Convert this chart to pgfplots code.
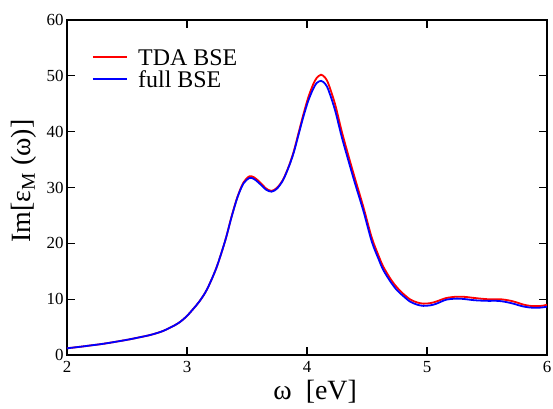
\documentclass[border=0pt]{standalone}
\usepackage{fontspec}
\setmainfont{Liberation Serif}
\usepackage{pgfplots}
\pgfplotsset{compat=1.18}
\begin{document}
\begin{tikzpicture}
\begin{axis}[name=ax, scale only axis, width=480bp, height=335bp,
  xmin=2, xmax=6, ymin=0, ymax=60,
  xtick={2,3,4,5,6}, ytick={0,10,20,30,40,50,60},
  xticklabels={2,3,4,5,6}, yticklabels={0,10,20,30,40,50,60},
  minor tick num=0,
  tick align=inside, major tick length=8bp,
  tick style={line width=1.2bp, black},
  axis line style={line width=1.8bp},
  ticklabel style={font=\fontsize{17}{17}\selectfont},
  xticklabel style={yshift=-3bp},
  xlabel={ω\ \ [eV]},
  ylabel={Im[ε\textsubscript{M} (ω)]},
  xlabel style={font=\fontsize{28}{28}\selectfont, at={(axis description cs:0.517,-0.11)}, anchor=center},
  ylabel style={font=\fontsize{28}{28}\selectfont, at={(axis description cs:-0.0896,0.519)}, anchor=center},
  legend style={at={(axis description cs:0.0515,0.924)}, anchor=north west, draw=none, fill=none,
    inner sep=0pt, font=\fontsize{24}{24}\selectfont, row sep=0bp, column sep=10.5bp,
    nodes={inner sep=0pt, text height=19.5bp, text depth=2.5bp}},
  legend image code/.code={\draw[#1] (0bp,0bp) -- (34bp,0bp);},
  legend cell align=left,
]
\addplot[red, line width=1.8bp, smooth] coordinates {
(2.0,1.2) (2.1,1.45) (2.2,1.72) (2.3,2.0) (2.4,2.35) (2.5,2.72) (2.6,3.15) (2.7,3.62) (2.8,4.3)
(2.9,5.35) (2.95,6.05) (3.0,7.0) (3.05,8.2) (3.1,9.5) (3.15,11.1)
(3.19,12.8) (3.25,15.9) (3.32,20.6) (3.37,24.7) (3.42,28.3) (3.47,30.9) (3.52,32.0)
(3.56,31.8) (3.61,30.9) (3.66,29.8) (3.705,29.4) (3.75,29.95) (3.80,31.4) (3.85,33.9) (3.89,36.5)
(3.93,39.8) (3.97,43.1) (4.01,46.1) (4.05,48.4) (4.08,49.6) (4.117,50.2) (4.15,49.7) (4.178,48.6)
(4.233,45.0) (4.289,40.1) (4.344,35.8) (4.40,31.6) (4.47,26.5) (4.54,21.0) (4.60,17.6) (4.636,15.8)
(4.70,13.5) (4.75,12.1) (4.80,11.0) (4.86,9.95) (4.92,9.4) (4.97,9.2) (5.03,9.3) (5.08,9.6)
(5.16,10.2) (5.25,10.45) (5.32,10.4) (5.40,10.2) (5.50,10.0) (5.58,10.0) (5.63,9.95) (5.70,9.7)
(5.75,9.4) (5.80,9.05) (5.86,8.8) (5.92,8.75) (5.97,8.85) (6.0,9.0)
};
\addlegendentry{TDA BSE}
\addplot[blue, line width=1.8bp, smooth] coordinates {
(2.0,1.2) (2.1,1.45) (2.2,1.72) (2.3,2.0) (2.4,2.35) (2.5,2.72) (2.6,3.15) (2.7,3.62) (2.8,4.3)
(2.9,5.35) (2.95,6.05) (3.0,7.0) (3.05,8.2) (3.1,9.5) (3.15,11.1)
(3.19,12.8) (3.25,15.9) (3.32,20.6) (3.37,24.6) (3.42,28.2) (3.47,30.7) (3.52,31.7)
(3.56,31.5) (3.61,30.6) (3.66,29.6) (3.705,29.25) (3.75,29.8) (3.80,31.3) (3.85,33.8) (3.89,36.3)
(3.93,39.5) (3.97,42.7) (4.01,45.5) (4.05,47.6) (4.08,48.7) (4.117,49.1) (4.15,48.6) (4.178,47.5)
(4.233,43.9) (4.289,39.1) (4.344,34.9) (4.40,30.75) (4.47,25.8) (4.54,20.3) (4.60,17.0) (4.636,15.2)
(4.70,13.0) (4.75,11.6) (4.80,10.6) (4.86,9.55) (4.92,9.0) (4.97,8.8) (5.03,8.9) (5.08,9.2)
(5.16,9.9) (5.25,10.1) (5.32,10.0) (5.40,9.8) (5.50,9.7) (5.58,9.7) (5.63,9.6) (5.70,9.3)
(5.75,9.0) (5.80,8.7) (5.86,8.5) (5.92,8.45) (5.97,8.55) (6.0,8.65)
};
\addlegendentry{full BSE}
\end{axis}
\pgfresetboundingbox
\path[use as bounding box] ([shift={(-67bp,-54bp)}]ax.south west) rectangle ([shift={(6bp,20bp)}]ax.north east);
\end{tikzpicture}
\end{document}
